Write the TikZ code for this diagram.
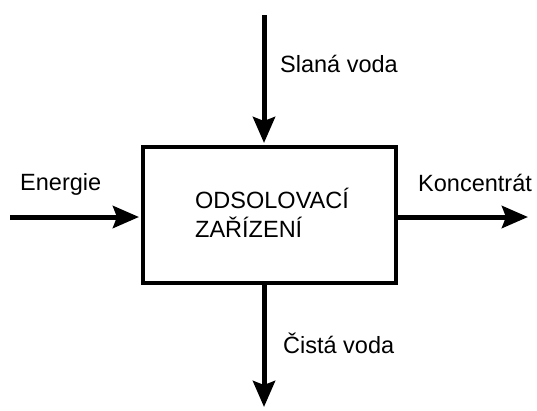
\documentclass[tikz,border=0pt]{standalone}
\usepackage{fontspec}
\setmainfont{Liberation Sans}
\usetikzlibrary{arrows.meta}
\begin{document}
\begin{tikzpicture}[x=1pt,y=-1pt,
  flow/.style={line width=5pt,-{Stealth[length=26pt,width=22pt,inset=4pt]},shorten >=2pt},
  lbl/.style={anchor=base west,inner sep=0pt,font=\fontsize{23.5}{28}\selectfont},
  device/.style={draw,line width=4pt,minimum width=253pt,minimum height=136pt,inner sep=0pt}]
\useasboundingbox[fill=white] (0,0) rectangle (537,410);
\node[device] (box) at (269.5,215) {};
\node[lbl,align=left] (name) at (195,237) {ODSOLOVACÍ\\[1pt]ZAŘÍZENÍ};
\coordinate (sin) at (264,15);
\coordinate (ein) at (10,217);
\coordinate (kout) at (528,217);
\coordinate (cout) at (264,407);
\draw[flow] (sin) -- (sin |- box.north);
\draw[flow] (ein) -- (ein -| box.west);
\draw[flow,shorten >=0pt] (kout -| box.east) -- (kout);
\draw[flow,shorten >=0pt] (cout |- box.south) -- (cout);
\node[lbl] (slana) at (280,72) {Slaná voda};
\node[lbl] (energie) at (20,190) {Energie};
\node[lbl] (konc) at (418,191) {Koncentrát};
\node[lbl] (cista) at (283,353) {Čistá voda};
\end{tikzpicture}
\end{document}
